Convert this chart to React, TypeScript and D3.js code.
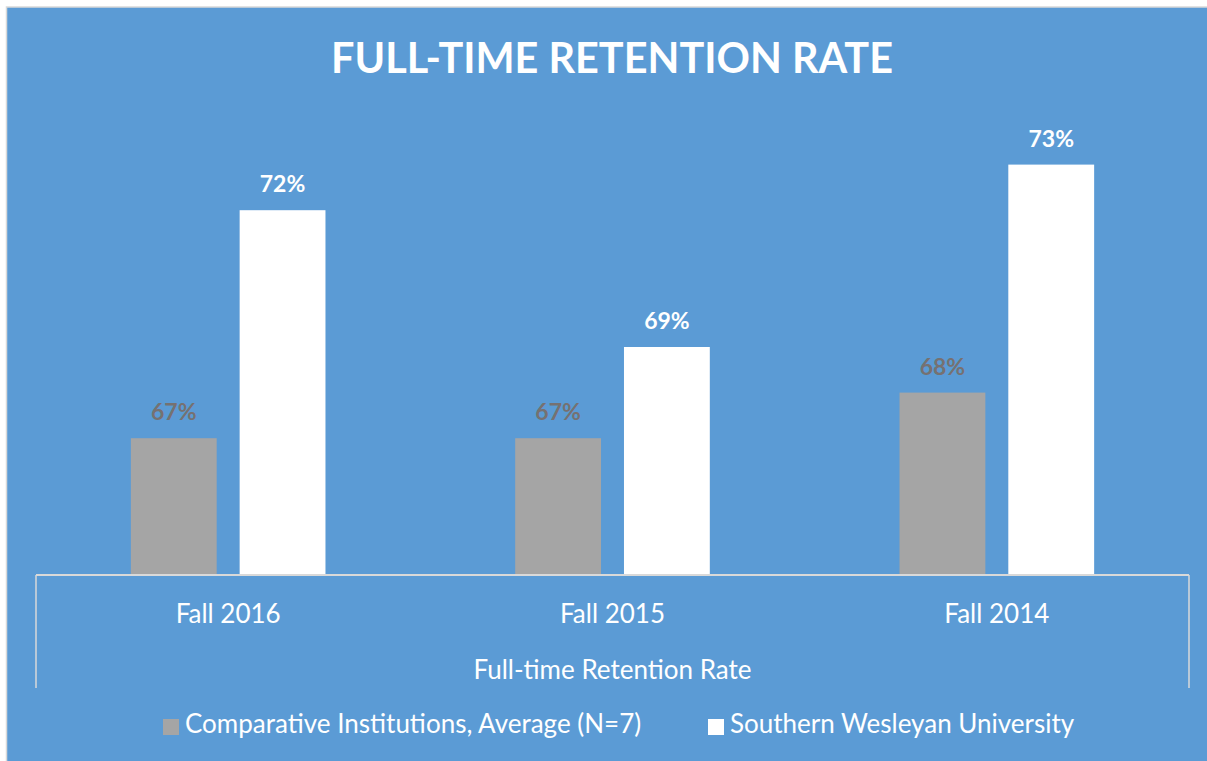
import React from "react";
import * as d3 from "d3";

const categories = ["Fall 2016", "Fall 2015", "Fall 2014"];
const seriesNames = ["Comparative Institutions, Average (N=7)", "Southern Wesleyan University"];
const comparativeValues = [67, 67, 68];
const swuValues = [72, 69, 73];
const title = "FULL-TIME RETENTION RATE";
const axisTitle = "Full-time Retention Rate";

const W = 1207;
const H = 761;
const BG = "#5B9BD5";
const GRAY = "#A5A5A5";
const WHITE = "#FFFFFF";
const GRAY_LABEL = "#767171";
const LINE = "#D9D9D9";
const FONT = "Lato, 'Open Sans', sans-serif";

export default function App() {
  const plotLeft = 36;
  const plotRight = 1189;
  const baseY = 575;

  const x = d3.scaleBand<string>().domain(categories).range([plotLeft, plotRight]).paddingInner(0).paddingOuter(0);
  const xs = d3
    .scaleBand<string>()
    .domain(seriesNames)
    .range([0, x.bandwidth()])
    .paddingInner(0.211)
    .paddingOuter(0.872);
  const y = d3.scaleLinear().domain([64, 74]).range([baseY, 119]);

  const series = [
    { name: seriesNames[0], values: comparativeValues, fill: GRAY, label: GRAY_LABEL },
    { name: seriesNames[1], values: swuValues, fill: WHITE, label: WHITE },
  ];

  return (
    <svg
      width={W}
      height={H}
      style={{ position: "absolute", left: 0, top: 0, display: "block" }}
      fontFamily={FONT}
    >
      <rect x={0} y={0} width={W} height={H} fill="#FFFFFF" />
      <rect x={6.5} y={7} width={W} height={H} fill={BG} stroke={LINE} strokeWidth={1.5} />
      <text x={612} y={73} textAnchor="middle" fill={WHITE} fontWeight={700} fontSize={41.4}>
        {title}
      </text>

      {series.map((s) =>
        categories.map((c, i) => {
          const bx = (x(c) as number) + (xs(s.name) as number);
          const by = y(s.values[i]);
          return (
            <g key={s.name + c}>
              <rect x={bx} y={by} width={xs.bandwidth()} height={baseY - by} fill={s.fill} />
              <text
                x={bx + xs.bandwidth() / 2}
                y={by - 18}
                textAnchor="middle"
                fill={s.label}
                fontWeight={700}
                fontSize={23}
              >
                {d3.format(".0f")(s.values[i]) + "%"}
              </text>
            </g>
          );
        })
      )}

      <line x1={plotLeft} x2={plotRight} y1={baseY} y2={baseY} stroke={LINE} strokeWidth={2} />
      <line x1={plotLeft} x2={plotLeft} y1={baseY} y2={688} stroke={LINE} strokeWidth={1.5} />
      <line x1={plotRight} x2={plotRight} y1={baseY} y2={688} stroke={LINE} strokeWidth={1.5} />

      {categories.map((c) => (
        <text
          key={c}
          x={(x(c) as number) + x.bandwidth() / 2}
          y={623}
          textAnchor="middle"
          fill={WHITE}
          fontSize={26}
        >
          {c}
        </text>
      ))}
      <text x={(plotLeft + plotRight) / 2} y={679} textAnchor="middle" fill={WHITE} fontSize={26}>
        {axisTitle}
      </text>

      <rect x={163} y={719} width={16} height={16} fill={GRAY} />
      <text x={185} y={733} fill={WHITE} fontSize={26}>
        {seriesNames[0]}
      </text>
      <rect x={708} y={719} width={16} height={16} fill={WHITE} />
      <text x={730} y={733} fill={WHITE} fontSize={26}>
        {seriesNames[1]}
      </text>
    </svg>
  );
}
